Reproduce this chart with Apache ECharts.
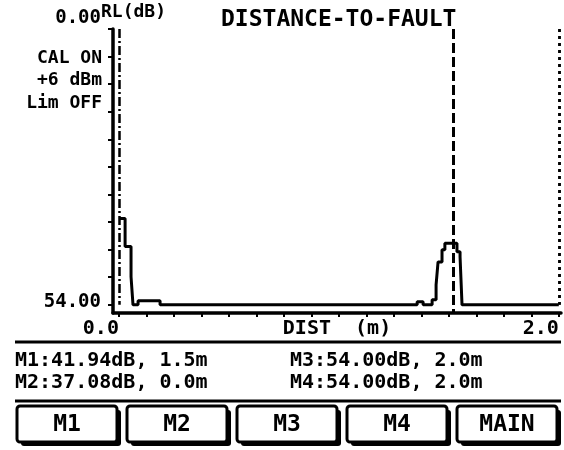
<!DOCTYPE html>
<html>
<head>
<meta charset="utf-8">
<script src="https://cdn.jsdelivr.net/npm/echarts@6/dist/echarts.min.js"></script>
<style>
  html, body { margin: 0; padding: 0; background: #fff; }
  #main { width: 564px; height: 450px; }
</style>
</head>
<body>
<div id="main"></div>
<script>
// trace: distance (m) where each step starts, and return loss (dB) held from there
var distM = [0.000, 0.028, 0.055, 0.064, 0.087, 0.187, 1.356, 1.383, 1.424, 1.442, 1.451, 1.469, 1.482, 1.537, 1.551, 1.560, 2.000];
var rlDb  = [37.08, 42.6, 48.5, 54.0, 53.2, 54.0, 53.4, 54.0, 53.0, 50.1, 45.6, 43.2, 41.94, 43.6, 44.6, 54.0, 54.0];

// markers
var markerNames = ['M1', 'M2', 'M3', 'M4'];
var markerDb = [41.94, 37.08, 54.00, 54.00];
var markerDist = [1.52, 0.0, 2.0, 2.0];

// axes
var yTicks = [0, 5.4, 10.8, 16.2, 21.6, 27, 32.4, 37.8, 43.2, 48.6, 54];
var yLabels = [0, 54];
var xTicks = [0, 0.125, 0.25, 0.375, 0.5, 0.625, 0.75, 0.875, 1, 1.125, 1.25, 1.375, 1.5, 1.625, 1.75, 1.875, 2];
var xLabels = [0, 2];

var statusLines = ['CAL ON', '+6 dBm', 'Lim OFF'];
var buttons = ['M1', 'M2', 'M3', 'M4', 'MAIN'];

var FONT = '"DejaVu Sans Mono", monospace';
var markerDash = [[10, 4], [9, 3, 2, 3], [3, 4], [3, 4]];

var chart = echarts.init(document.getElementById('main'), null, { renderer: 'canvas' });

var markLines = markerDist.map(function (d, i) {
    return [
        { coord: [d, 0], lineStyle: { color: '#000', width: i === 0 ? 3 : 2.5, type: markerDash[i] } },
        { coord: [d, i === 0 ? 55.6 : 54] }
    ];
});

// graphic bits: status text, readouts, separators, soft keys
var graphics = [];
statusLines.forEach(function (t, i) {
    graphics.push({
        type: 'text', x: 102, y: 58 + i * 22.5,
        style: { text: t, align: 'right', verticalAlign: 'middle', font: 'bold 18px ' + FONT, fill: '#000' }
    });
});
markerNames.forEach(function (n, i) {
    var txt = n + ':' + markerDb[i].toFixed(2) + 'dB, ' + markerDist[i].toFixed(1) + 'm';
    graphics.push({
        type: 'text', x: i < 2 ? 15 : 290, y: i % 2 === 0 ? 361 : 383,
        style: { text: txt, align: 'left', verticalAlign: 'middle', font: 'bold 20px ' + FONT, fill: '#000' }
    });
});
[342, 401].forEach(function (y) {
    graphics.push({
        type: 'line', shape: { x1: 15, y1: y, x2: 561, y2: y },
        style: { stroke: '#000', lineWidth: 3 }
    });
});
buttons.forEach(function (b, i) {
    var x = 17 + i * 110;
    graphics.push({
        type: 'rect', shape: { x: x + 4, y: 410, width: 100, height: 36, r: 3 },
        style: { fill: '#000' }
    });
    graphics.push({
        type: 'rect', shape: { x: x, y: 406, width: 100, height: 36, r: 3 },
        style: { fill: '#fff', stroke: '#000', lineWidth: 3 }
    });
    graphics.push({
        type: 'text', x: x + 50, y: 425,
        style: { text: b, align: 'center', verticalAlign: 'middle', font: 'bold 23px ' + FONT, fill: '#000' }
    });
});

chart.setOption({
    animation: false,
    backgroundColor: '#fff',
    title: {
        text: 'DISTANCE-TO-FAULT',
        left: 216, top: 4,
        textStyle: { fontFamily: FONT, fontSize: 23, fontWeight: 'bold', color: '#000' }
    },
    grid: { left: 113, top: 29, width: 448, height: 284, containLabel: false, outerBoundsMode: 'none' },
    xAxis: {
        type: 'value',
        position: 'bottom',
        min: -0.027, max: 2.01,
        name: 'DIST  (m)',
        nameLocation: 'middle',
        nameGap: 6,
        nameMoveOverlap: false,
        nameTextStyle: { fontFamily: FONT, fontSize: 20, fontWeight: 'bold', color: '#000', verticalAlign: 'top' },
        axisLine: { show: true, onZero: false, lineStyle: { color: '#000', width: 3.5 } },
        axisTick: { show: true, customValues: xTicks, length: 4, lineStyle: { color: '#000', width: 2 } },
        axisLabel: {
            customValues: xLabels,
            formatter: function (v) { return v.toFixed(1); },
            align: 'right', margin: 6,
            fontFamily: FONT, fontSize: 20, fontWeight: 'bold', color: '#000'
        },
        splitLine: { show: false }
    },
    yAxis: {
        type: 'value',
        position: 'left',
        inverse: true,
        min: 0, max: 55.6,
        name: 'RL(dB)',
        nameLocation: 'start',
        nameGap: 8,
        nameMoveOverlap: false,
        nameTextStyle: { fontFamily: FONT, fontSize: 18, fontWeight: 'bold', color: '#000', align: 'left', padding: [0, 0, 0, -12] },
        axisLine: { show: true, onZero: false, lineStyle: { color: '#000', width: 3.5 } },
        axisTick: { show: true, customValues: yTicks, length: 5, lineStyle: { color: '#000', width: 2 } },
        axisLabel: {
            customValues: yLabels,
            formatter: function (v) { return v === 0 ? '{top|0.00}' : '{bot|' + v.toFixed(2) + '}'; },
            margin: 12,
            rich: {
                top: { fontFamily: FONT, fontSize: 19, fontWeight: 'bold', color: '#000', padding: [0, 0, 22, 0] },
                bot: { fontFamily: FONT, fontSize: 19, fontWeight: 'bold', color: '#000', padding: [0, 0, 6, 0] }
            }
        },
        splitLine: { show: false }
    },
    series: [{
        type: 'line',
        step: 'end',
        data: distM.map(function (d, i) { return [d, rlDb[i]]; }),
        showSymbol: false,
        lineStyle: { color: '#000', width: 3 },
        markLine: {
            silent: true,
            symbol: 'none',
            label: { show: false },
            data: markLines
        }
    }],
    graphic: graphics
});
</script>
</body>
</html>
